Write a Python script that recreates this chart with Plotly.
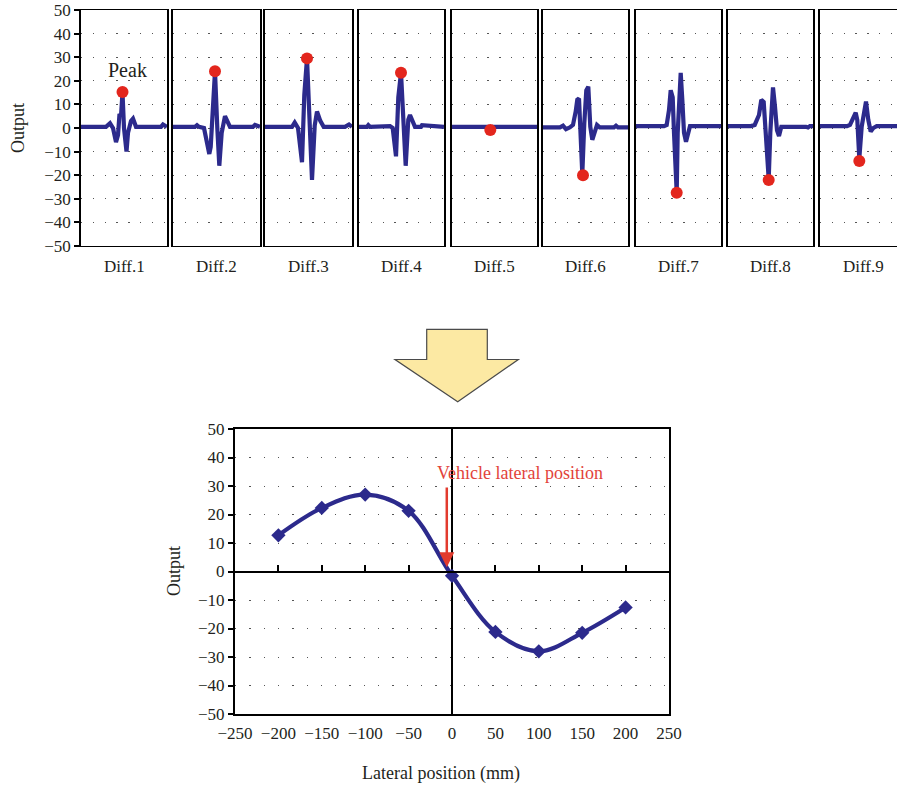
import plotly.graph_objects as go

# ---------------- data ----------------
panel_labels = ["Diff.1", "Diff.2", "Diff.3", "Diff.4", "Diff.5", "Diff.6", "Diff.7", "Diff.8", "Diff.9"]

# waveform samples per panel: t = position across the panel, y = output
diff1_t = [0, 25, 29, 32, 35, 37, 38.5, 40, 41.5, 43, 45.5, 47, 50, 52, 55, 80, 82, 86]
diff1_y = [0.5, 0.5, 2, 0, -6, -3, 6, 5, 15, 0, -10, -2, 3, 4, 0.5, 0.5, 1.5, 0.5]

diff2_t = [0, 22, 24, 26, 31, 36.3, 37.7, 39.7, 42, 44.3, 46.3, 48.7, 52, 57, 80, 82, 87]
diff2_y = [0.5, 0.5, 1.2, 0.5, 0, -11, -8, 10, 24, 0, -16, -2, 5, 0.5, 0.5, 1.3, 0.5]

diff3_t = [0, 27, 29.7, 33, 37, 39.3, 42, 44.3, 47, 49.7, 52, 55.3, 58.7, 80, 84, 87]
diff3_y = [0.5, 0.5, 2.3, 0, -14.5, 14, 29.5, 9, -22, 1, 7, 3, 0.5, 0.5, 1.5, 0.5]

diff4_t = [0, 8, 9.3, 11, 31, 33.7, 37, 39.3, 42, 44.3, 46.7, 49.3, 51, 56, 62, 63, 85]
diff4_y = [0.5, 0.5, 1.2, 0.5, 0.8, 0, -12, 13, 23.4, 0, -16, 3.5, 5.5, 0.5, 0.5, 1.2, 0.5]

diff5_t = [0, 36, 38.3, 41, 85]
diff5_y = [0.5, 0.5, -0.8, 0.5, 0.5]

diff6_t = [0, 17, 20, 23, 27, 30, 32.7, 34.3, 36, 37.3, 39.3, 41.3, 43.3, 45.3, 47.3, 49.3, 51.7, 54, 56.7, 71, 73, 75, 85]
diff6_y = [0.3, 0.3, 1, -0.5, 0.3, 1.3, 7, 12, 12.5, -1, -19.5, 2, 16, 17.5, 0.5, -5, -1.5, 1.3, 0.3, 0.3, 1, 0.3, 0.3]

diff7_t = [0, 28, 30.7, 33, 34.7, 36.7, 38, 40.7, 41.7, 43, 44.7, 46.3, 48, 50, 52.3, 54, 85]
diff7_y = [0.8, 0.8, 1.3, 7.6, 16, 13, -2, -27.4, -2, 14.7, 23.4, 12, -2, -5.8, -1.5, 0.8, 0.8]

diff8_t = [0, 23, 26.7, 31, 33.3, 35.7, 37.7, 40.7, 42.3, 43.7, 45, 47, 49, 51, 53.3, 78, 80, 82, 85]
diff8_y = [0.8, 0.8, 1.3, 5.5, 11.9, 11, -2, -21.7, -2, 12, 17.2, 9, -1, -3.4, 0.5, 0.5, 0.2, 0.8, 0.8]

diff9_t = [0, 27, 30, 33.3, 35.7, 37.3, 39.3, 41.7, 44, 46, 48.3, 50.7, 53.3, 56.7, 77]
diff9_y = [0.8, 0.8, 1.3, 4, 6.5, 3.4, -13, 0.6, 7.6, 11.2, 3.4, -1.5, 0, 0.8, 0.8]

# detected peak of each difference signal
peak_t = [41.5, 42, 42, 42, 38.3, 40, 40.7, 40.7, 39.3]
peak_y = [15.3, 24, 29.5, 23.4, -0.8, -20, -27.4, -22, -14]

# lower chart: peak output vs lateral position
lateral_mm = [-200, -150, -100, -50, 0, 50, 100, 150, 200]
bottom_output = [12.7, 22.3, 27.0, 21.3, -1.5, -21.2, -28.0, -21.5, -12.6]

y_ticks = [-50, -40, -30, -20, -10, 0, 10, 20, 30, 40, 50]
x_ticks = [-250, -200, -150, -100, -50, 0, 50, 100, 150, 200, 250]
inner_ticks = [-200, -150, -100, -50, 50, 100, 150, 200]

wave_t = [diff1_t, diff2_t, diff3_t, diff4_t, diff5_t, diff6_t, diff7_t, diff8_t, diff9_t]
wave_y = [diff1_y, diff2_y, diff3_y, diff4_y, diff5_y, diff6_y, diff7_y, diff8_y, diff9_y]

# ---------------- layout helpers ----------------
W, H = 897, 786
def fx(px):
    return px / W
def fy(py):
    return 1 - py / H

FONT = "Liberation Serif"
NAVY = "#2c2a8c"
RED = "#e3261d"
TXT = "#231f20"
TICK_SIZE = 17

panels_px = [(81, 167), (173, 260), (265, 352), (359, 444), (452, 537),
             (543, 628), (636, 721), (728, 813), (820, 897)]
top_y = (10, 246)

fig = go.Figure()
layout = dict(
    template="none",
    width=W, height=H, margin=dict(l=0, r=0, t=0, b=0, pad=0),
    paper_bgcolor="white", plot_bgcolor="white", showlegend=False,
    font=dict(family=FONT, size=16, color=TXT),
)
annotations = []

for i, (l, r) in enumerate(panels_px):
    n = i + 1
    xa = "x" if n == 1 else f"x{n}"
    ya = "y" if n == 1 else f"y{n}"
    fig.add_trace(go.Scatter(x=wave_t[i], y=wave_y[i], xaxis=xa, yaxis=ya, mode="lines",
                             line=dict(color=NAVY, width=4.2), hoverinfo="skip"))
    fig.add_trace(go.Scatter(x=[peak_t[i]], y=[peak_y[i]], xaxis=xa, yaxis=ya, mode="markers",
                             marker=dict(color=RED, size=12, line=dict(width=0))))
    width_units = r - l if n < 9 else 77
    layout[f"xaxis{n}" if n > 1 else "xaxis"] = dict(
        domain=[fx(l), fx(r)], range=[0, width_units], anchor=ya, automargin=False,
        showgrid=False, zeroline=False, showticklabels=False, ticks="",
        showline=True, mirror=True, linecolor="black", linewidth=1.4, fixedrange=True,
    )
    layout[f"yaxis{n}" if n > 1 else "yaxis"] = dict(
        domain=[fy(top_y[1]), fy(top_y[0])], range=[-50, 50], anchor=xa, automargin=False,
        tickvals=y_ticks, showticklabels=(n == 1), ticks="outside" if n == 1 else "",
        ticklen=5, tickwidth=1.5, tickcolor="black", ticklabeloverflow="allow",
        showgrid=True, gridcolor="#555555", gridwidth=1, griddash="1.3px,10.5px",
        zeroline=False, showline=True, mirror=(n < 9), linecolor="black",
        linewidth=1.5, fixedrange=True,
        tickfont=dict(family=FONT, size=TICK_SIZE, color=TXT),
    )
    annotations.append(dict(text=panel_labels[i], x=fx((l + r) / 2) if n < 9 else fx(l + 43),
                            y=fy(266), xref="paper", yref="paper", showarrow=False,
                            xanchor="center", yanchor="middle",
                            font=dict(family=FONT, size=17, color=TXT)))

annotations.append(dict(text="Peak", x=fx(127.5), y=fy(70), xref="paper", yref="paper",
                        showarrow=False, xanchor="center", yanchor="middle",
                        font=dict(family=FONT, size=20, color=TXT)))
annotations.append(dict(text="Output", x=fx(18), y=fy(128), xref="paper", yref="paper",
                        showarrow=False, textangle=-90, xanchor="center", yanchor="middle",
                        font=dict(family=FONT, size=18, color=TXT)))

# ---------------- lower chart ----------------
bx = (235, 669)
by = (429, 714)
fig.add_trace(go.Scatter(x=lateral_mm, y=bottom_output, xaxis="x10", yaxis="y10",
                         mode="lines+markers",
                         line=dict(color=NAVY, width=4.2, shape="spline", smoothing=1.0),
                         marker=dict(symbol="diamond", size=11, color=NAVY)))
fig.add_trace(go.Scatter(x=lateral_mm, y=bottom_output, xaxis="x11", yaxis="y10",
                         mode="none", hoverinfo="skip"))

y0_paper = fy(by[0] + (by[1] - by[0]) / 2)
layout["xaxis10"] = dict(
    domain=[fx(bx[0]), fx(bx[1])], range=[-250, 250], anchor="y10", automargin=False,
    tickvals=x_ticks, ticks="", showgrid=False,
    zeroline=True, zerolinecolor="black", zerolinewidth=2,
    showline=True, mirror=True, linecolor="black", linewidth=1.5,
    ticklabelstandoff=3, fixedrange=True,
    tickfont=dict(family=FONT, size=TICK_SIZE, color=TXT),
)
layout["xaxis11"] = dict(
    overlaying="x10", anchor="free", position=y0_paper, side="bottom", automargin=False,
    range=[-250, 250], tickvals=inner_ticks, ticks="inside", ticklen=6, tickwidth=2,
    tickcolor="black", showticklabels=False, showgrid=False, zeroline=False,
    showline=True, linecolor="black", linewidth=2, fixedrange=True,
)
layout["yaxis10"] = dict(
    domain=[fy(by[1]), fy(by[0])], range=[-50, 50], anchor="x10", automargin=False,
    tickvals=y_ticks, ticks="outside", ticklen=5, tickwidth=1.5, tickcolor="black",
    showgrid=True, gridcolor="#555555", gridwidth=1, griddash="1.3px,13px",
    zeroline=False, showline=True, mirror=True, linecolor="black", linewidth=2,
    fixedrange=True, tickfont=dict(family=FONT, size=TICK_SIZE, color=TXT),
)

annotations.append(dict(text="", x=-6, y=1.5, ax=-6, ay=30, xref="x10", yref="y10",
                        axref="x10", ayref="y10", showarrow=True, arrowhead=2,
                        arrowsize=1.2, arrowwidth=2.5, arrowcolor="#e23b2e"))
annotations.append(dict(text="Vehicle lateral position", x=-20, y=34.6, xref="x10", yref="y10",
                        showarrow=False, xanchor="left", yanchor="middle",
                        font=dict(family=FONT, size=18, color="#e2433a")))
annotations.append(dict(text="Output", x=fx(174), y=fy(571), xref="paper", yref="paper",
                        showarrow=False, textangle=-90, xanchor="center", yanchor="middle",
                        font=dict(family=FONT, size=18, color=TXT)))
annotations.append(dict(text="Lateral position (mm)", x=fx(441), y=fy(773), xref="paper",
                        yref="paper", showarrow=False, xanchor="center", yanchor="middle",
                        font=dict(family=FONT, size=18, color=TXT)))

# big yellow arrow between the panels
arrow_pts = [(426.7, 329.3), (487.3, 329.3), (487.3, 359.5), (518.3, 359.5),
             (457.7, 401.7), (395, 359.5), (426.7, 359.5)]
path = "M " + " L ".join(f"{fx(x):.5f},{fy(y):.5f}" for x, y in arrow_pts) + " Z"
layout["shapes"] = [dict(type="path", path=path, xref="paper", yref="paper",
                         fillcolor="#fce9a3", line=dict(color="#4a4a4a", width=1.2))]
layout["annotations"] = annotations

fig.update_layout(**layout)
# remove the browser's default page margin so the figure fills the window exactly
fig.write_html("out.html", config={"displayModeBar": False},
               post_script="document.body.style.margin='0';")
